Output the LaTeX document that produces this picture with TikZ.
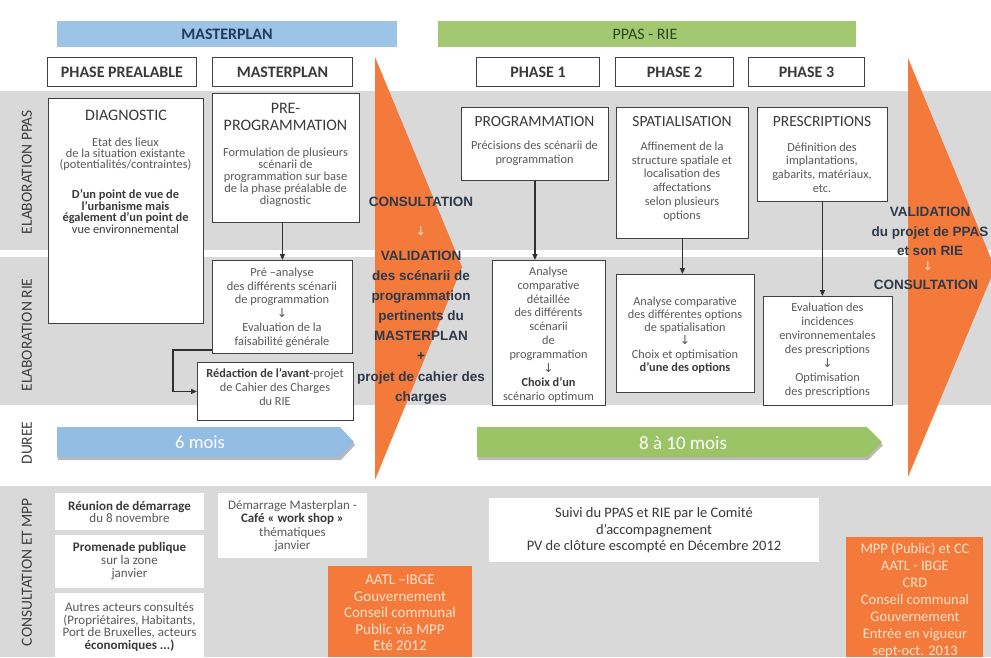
\documentclass[tikz,border=0pt]{standalone}
\usepackage{fontspec}
\setmainfont{Carlito}
\newfontfamily\arialfont{Liberation Sans}
\newfontfamily\symbfont{DejaVu Sans}
\usetikzlibrary{arrows.meta}
\definecolor{bandgray}{HTML}{D9D9D9}
\definecolor{boxline}{HTML}{404040}
\definecolor{linkgray}{HTML}{303030}
\definecolor{bodygray}{HTML}{595959}
\definecolor{titlegray}{HTML}{3A3A3A}
\definecolor{labelgray}{HTML}{404040}
\definecolor{mpblue}{HTML}{9DC3E6}
\definecolor{mpbluetext}{HTML}{1F3A5A}
\definecolor{durblue}{HTML}{93BDE3}
\definecolor{ppgreen}{HTML}{A2C872}
\definecolor{ppgreentext}{HTML}{2E4620}
\definecolor{durgreen}{HTML}{9BC466}
\definecolor{orangefill}{HTML}{F37A3B}
\definecolor{paleorange}{HTML}{FCE2CC}
\definecolor{calltext}{HTML}{2E3A48}
\newcommand{\darr}{{\symbfont ↓}}

\begin{document}
\begin{tikzpicture}[x=1pt, y=-1pt,
  topbar/.style={anchor=north west, inner sep=0pt, minimum height=26pt},
  bartext/.style={inner sep=0pt, font=\fontsize{16}{16}\selectfont\bfseries},
  phasehead/.style={draw=boxline, fill=white, line width=0.9pt, anchor=north west, inner sep=0pt, minimum height=29pt, text=titlegray, font=\fontsize{16}{16}\selectfont\bfseries},
  panel/.style={draw=boxline, fill=white, line width=0.9pt, inner sep=0pt, anchor=north west},
  whitecard/.style={fill=white, inner sep=0pt, anchor=north west},
  orangecard/.style={fill=orangefill, inner sep=0pt, anchor=north west},
  boxtitle/.style={inner sep=0pt, align=center, text=titlegray, font={\fontsize{16}{17}\selectfont\lineskiplimit=-30pt}},
  txt/.style 2 args={inner sep=0pt, align=center, text=bodygray, font={\fontsize{#1}{#2}\selectfont\lineskiplimit=-30pt}},
  sidelabel/.style={rotate=90, inner sep=0pt, text=labelgray, font=\fontsize{15.5}{15.5}\selectfont},
  callout/.style 2 args={inner sep=0pt, align=center, text=calltext, font={\arialfont\bfseries\fontsize{#1}{#2}\selectfont\lineskiplimit=-30pt}},
  link/.style={draw=linkgray, line width=1.3pt, -{Triangle[length=6pt,width=5pt]}}
]
\useasboundingbox (0,0) rectangle (991,657);
\fill[white] (0,0) rectangle (991,657);

% Bands
\fill[bandgray] (0,91) rectangle (991,250);
\fill[bandgray] (0,257) rectangle (991,405);
\fill[bandgray] (0,486) rectangle (991,657);

% Side labels
\node[sidelabel] (lblppas) at (27,172) {ELABORATION  PPAS};
\node[sidelabel] (lblrie) at (27,335) {ELABORATION  RIE};
\node[sidelabel] (lbldur) at (27,443) {DUREE};
\node[sidelabel] (lblmpp) at (27,572) {CONSULTATION ET MPP};

% Top bars
\node[topbar, fill=mpblue, minimum width=340pt] (mpbar) at (57,21) {};
\node[bartext, text=mpbluetext] (mpbartxt) at (227,34) {MASTERPLAN};
\node[topbar, fill=ppgreen, minimum width=418pt] (ppbar) at (438,21) {};
\node[bartext, font=\fontsize{16}{16}\selectfont, text=ppgreentext] (ppbartxt) at (645,34) {PPAS - RIE};

% Phase headers
\node[phasehead, minimum width=149pt] (phpre) at (47,57) {PHASE PREALABLE};
\node[phasehead, minimum width=140pt] (phmp) at (212,57) {MASTERPLAN};
\node[phasehead, minimum width=123pt] (ph1) at (476,57) {PHASE 1};
\node[phasehead, minimum width=118pt] (ph2) at (615,57) {PHASE 2};
\node[phasehead, minimum width=116pt] (ph3) at (748,57) {PHASE 3};

% Big orange arrows
\fill[orangefill] (375,57) -- (462,267) -- (375,480) -- cycle;
\fill[orangefill] (908,58) -- (995,268) -- (908,477) -- cycle;

% Phase prealable / masterplan boxes
\node[panel, minimum width=155pt, minimum height=225pt] (diag) at (48,98) {};
\node[boxtitle] (diagtitle) at (126,115) {DIAGNOSTIC};
\node[txt={12.4}{11}] (diagtxt) at (125.5,154) {Etat des lieux\\de la situation existante\\(potentialités/contraintes)};
\node[txt={12.4}{11.7}, text=titlegray] (diagview) at (125.5,211.5) {\textbf{D’un point de vue de}\\\textbf{l’urbanisme mais}\\\textbf{également d’un point de}\\vue environnemental};

\node[panel, minimum width=147pt, minimum height=129pt] (preprog) at (212,93) {};
\node[boxtitle] (preprogtitle) at (285.5,116.5) {PRE-\\PROGRAMMATION};
\node[txt={12.4}{12}] (preprogtxt) at (285.5,177) {Formulation de plusieurs\\scénarii de\\programmation sur base\\de la phase préalable de\\diagnostic};

\node[panel, minimum width=140pt, minimum height=93pt] (preana) at (212,260) {};
\node[txt={12.4}{13.8}] (preanatxt) at (282,307.5) {Pré –analyse\\des différents scénarii\\de programmation\\\darr\\Evaluation de la\\faisabilité générale};

\node[panel, minimum width=156pt, minimum height=58pt] (redac) at (197,362) {};
\node[txt={12.3}{14}] (redactxt) at (275,387) {{\color{titlegray}\bfseries Rédaction de l’avant}-projet\\de Cahier des Charges\\du RIE};

% Phase 1
\node[panel, minimum width=147pt, minimum height=73pt] (prog) at (461,107) {};
\node[boxtitle, font=\fontsize{15.5}{15.5}\selectfont] (progtitle) at (534.5,122) {PROGRAMMATION};
\node[txt={12.3}{13.5}] (progtxt) at (534.5,153.5) {Précisions des scénarii de\\programmation};

\node[panel, minimum width=113pt, minimum height=145pt] (anaone) at (492,260) {};
\node[txt={12.3}{13.9}] (anaonetxt) at (548.5,334.5) {Analyse\\comparative\\détaillée\\des différents\\scénarii\\de\\programmation\\\darr\\{\color{titlegray}\bfseries Choix d’un}\\scénario optimum};

% Phase 2
\node[panel, minimum width=132pt, minimum height=131pt] (spat) at (616,107) {};
\node[boxtitle, font=\fontsize{15.5}{15.5}\selectfont] (spattitle) at (682,122) {SPATIALISATION};
\node[txt={12.3}{13.8}] (spattxt) at (682,181.5) {Affinement de la\\structure spatiale et\\localisation des\\affectations\\selon plusieurs\\options};

\node[panel, minimum width=138pt, minimum height=118pt] (anatwo) at (616,274) {};
\node[txt={12.3}{13.2}] (anatwotxt) at (685,335) {Analyse comparative\\des différentes options\\de spatialisation\\\darr\\Choix et optimisation\\{\color{titlegray}\bfseries d’une des options}};

% Phase 3
\node[panel, minimum width=130pt, minimum height=94pt] (presc) at (757,107) {};
\node[boxtitle, font=\fontsize{15.5}{15.5}\selectfont] (presctitle) at (822,122) {PRESCRIPTIONS};
\node[txt={12.3}{13.7}] (presctxt) at (822,167.5) {Définition des\\implantations,\\gabarits, matériaux,\\etc.};

\node[panel, minimum width=129pt, minimum height=109pt] (evalu) at (763,296) {};
\node[txt={12.3}{14}] (evalutxt) at (827.5,350) {Evaluation des\\incidences\\environnementales\\des prescriptions\\\darr\\Optimisation\\des prescriptions};

% Connectors
\draw[link] (preprog.south -| preana.north) -- (preana.north);
\coordinate (bend) at (173,350);
\draw[link] (preana.south west |- bend) -- (bend) |- (redac.west);
\draw[link] (prog.south) -- (prog.south |- anaone.north);
\draw[link] (spat.south) -- (spat.south |- anatwo.north);
\draw[link] (presc.south) -- (presc.south |- evalu.north);

% Orange callouts
\node[callout={13.5}{13.5}] (consultone) at (421,202) {CONSULTATION};
\node[inner sep=0pt, text=paleorange, font=\symbfont\fontsize{12}{12}\selectfont] (arrone) at (421,231) {↓};
\node[callout={13.5}{20.1}] (validone) at (421,327.5) {VALIDATION\\des scénarii de\\programmation\\pertinents du\\MASTERPLAN\\+\\projet de cahier des\\charges};
\node[callout={13.5}{19.5}] (validtwo) at (930,231.5) {VALIDATION\\du projet de PPAS\\et son RIE};
\node[inner sep=0pt, text=paleorange, font=\symbfont\fontsize{12}{12}\selectfont] (arrtwo) at (928,266) {↓};
\node[callout={13.5}{13.5}] (consulttwo) at (926,285) {CONSULTATION};

% Duration arrows
\fill[gray!55] (58,430) -- (341,430) -- (355,445) -- (341,460) -- (58,460) -- cycle;
\fill[durblue] (57,427) -- (340,427) -- (354,442) -- (340,457) -- (57,457) -- cycle;
\node[text=white, font=\fontsize{18.5}{18.5}\selectfont] (durone) at (200,442) {6 mois};
\fill[gray!55] (478,430) -- (868,430) -- (883,445) -- (868,460) -- (478,460) -- cycle;
\fill[durgreen] (477,427) -- (867,427) -- (882,442) -- (867,457) -- (477,457) -- cycle;
\node[text=white, font=\fontsize{19}{19}\selectfont] (durtwo) at (683,443) {8 à 10 mois};

% Consultation et MPP
\node[whitecard, minimum width=149pt, minimum height=37pt] (reun) at (55,493) {};
\node[txt={13}{12}] (reuntxt) at (129.5,512) {{\color{titlegray}\bfseries Réunion de démarrage}\\du 8 novembre};
\node[whitecard, minimum width=149pt, minimum height=53pt] (prom) at (55,535) {};
\node[txt={13}{13}] (promtxt) at (129.5,561) {{\color{titlegray}\bfseries Promenade publique}\\sur la zone\\janvier};
\node[whitecard, minimum width=149pt, minimum height=64pt] (autres) at (55,593) {};
\node[txt={13}{12.7}] (autrestxt) at (129.5,627) {Autres acteurs consultés\\(Propriétaires, Habitants,\\Port de Bruxelles, acteurs\\{\color{titlegray}\bfseries économiques ...)}};
\node[whitecard, minimum width=149pt, minimum height=65pt] (demar) at (218,493) {};
\node[txt={13}{13.3}] (demartxt) at (292.5,526) {Démarrage Masterplan -\\{\color{titlegray}\bfseries Café « work shop »}\\thématiques\\janvier};
\node[whitecard, minimum width=330pt, minimum height=64pt] (suivi) at (489,498) {};
\node[txt={14.5}{16.5}, text=titlegray] (suivitxt) at (654,530.5) {Suivi du PPAS et RIE par le Comité\\d’accompagnement\\PV  de clôture escompté en Décembre 2012};
\node[orangecard, minimum width=144pt, minimum height=91pt] (orone) at (328,566) {};
\node[txt={15}{16.5}, text=paleorange] (oronetxt) at (400,613) {AATL –IBGE\\Gouvernement\\Conseil communal\\Public via MPP\\Eté 2012};
\node[orangecard, minimum width=137pt, minimum height=120pt] (ortwo) at (846,537) {};
\node[txt={14.5}{17}, text=paleorange] (ortwotxt) at (915,600) {MPP (Public) et CC\\AATL - IBGE\\CRD\\Conseil communal\\Gouvernement\\Entrée en vigueur\\sept-oct. 2013};
\end{tikzpicture}
\end{document}
